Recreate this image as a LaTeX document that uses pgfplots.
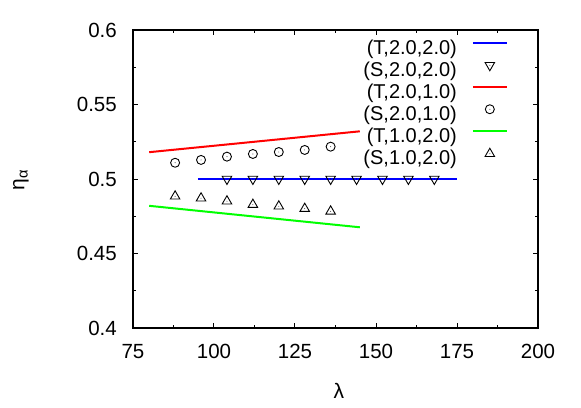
\documentclass[border=0pt]{standalone}
\usepackage{fontspec}
\setmainfont{Liberation Sans}
\usepackage{pgfplots}
\pgfplotsset{compat=1.18}
\pgfdeclareplotmark{ocd}{%
 \pgfpathcircle{\pgfpointorigin}{\pgfplotmarksize}\pgfusepathqstroke
 \pgfpathcircle{\pgfpointorigin}{0.45pt}\pgfusepathqfill}
\pgfdeclareplotmark{utd}{%
 \pgfpathmoveto{\pgfpointpolar{90}{\pgfplotmarksize}}%
 \pgfpathlineto{\pgfpointpolar{-30}{\pgfplotmarksize}}%
 \pgfpathlineto{\pgfpointpolar{210}{\pgfplotmarksize}}%
 \pgfpathclose\pgfusepathqstroke
 \pgfpathcircle{\pgfpointorigin}{0.45pt}\pgfusepathqfill}
\pgfdeclareplotmark{dtd}{%
 \pgfpathmoveto{\pgfpointpolar{-90}{\pgfplotmarksize}}%
 \pgfpathlineto{\pgfpointpolar{30}{\pgfplotmarksize}}%
 \pgfpathlineto{\pgfpointpolar{150}{\pgfplotmarksize}}%
 \pgfpathclose\pgfusepathqstroke
 \pgfpathcircle{\pgfpointorigin}{0.45pt}\pgfusepathqfill}
\definecolor{gpgreen}{RGB}{0,255,0}
\pgfplotsset{
 lineleg/.style={legend image code/.code={\draw[##1] (0pt,6pt) -- (34pt,6pt);}},
 markleg/.style={legend image code/.code={\draw[##1] plot coordinates {(17pt,6pt)};}},
}
\begin{document}
\begin{tikzpicture}
\begin{axis}[
 width=405pt, height=298pt, scale only axis,
 xmin=75, xmax=200, ymin=0.4, ymax=0.6,
 xtick={75,100,125,150,175,200},
 ytick={0.4,0.45,0.5,0.55,0.6},
 yticklabels={0.4,0.45,0.5,0.55,0.6},
 minor x tick num=1, minor y tick num=1,
 tick align=inside, major tick length=5pt, minor tick length=3pt,
 axis line style={line width=1.2pt},
 every tick/.style={black, line width=1pt},
 /pgf/number format/assume math mode=true,
 every tick label/.append style={font=\fontsize{20.5}{24}\selectfont},
 xticklabel style={inner sep=0pt, anchor=north, yshift=-16pt},
 yticklabel style={inner sep=0pt, anchor=east, xshift=-16pt},
 xlabel={λ}, ylabel={η\textsubscript{α}},
 label style={font=\fontsize{21}{24}\selectfont},
 xlabel style={at={(axis description cs:0.5086,-0.2113)}, anchor=center},
 ylabel style={at={(axis description cs:-0.2766,0.4966)}, anchor=center},
 legend plot pos=right,
 legend cell align=right,
 legend style={draw=none, fill=none, at={(axis description cs:0.926,0.973)}, anchor=north east,
   font=\fontsize{20}{24}\selectfont, inner sep=0pt, column sep=14pt, row sep=0pt,
   nodes={inner sep=1pt, text height=15pt, text depth=5pt}},
]
\addplot[blue, line width=2pt, lineleg]
 coordinates {(95,0.5) (175,0.5)};
\addlegendentry{(T,2.0,2.0)}
\addplot[only marks, mark=dtd, mark size=5.5pt, black, line width=0.9pt, markleg]
 coordinates {(104,0.5) (112,0.5) (120,0.5) (128,0.5) (136,0.5) (144,0.5) (152,0.5) (160,0.5) (168,0.5)};
\addlegendentry{(S,2.0,2.0)}
\addplot[red, line width=2pt, lineleg]
 coordinates {(80,0.518) (145,0.532)};
\addlegendentry{(T,2.0,1.0)}
\addplot[only marks, mark=ocd, mark size=4.5pt, black, line width=0.9pt, markleg]
 coordinates {(88,0.5109) (96,0.5128) (104,0.5150) (112,0.5168) (120,0.5181) (128,0.5195) (136,0.5217)};
\addlegendentry{(S,2.0,1.0)}
\addplot[gpgreen, line width=2pt, lineleg]
 coordinates {(80,0.482) (145,0.4676)};
\addlegendentry{(T,1.0,2.0)}
\addplot[only marks, mark=utd, mark size=5.5pt, black, line width=0.9pt, markleg]
 coordinates {(88,0.4884) (96,0.4871) (104,0.4851) (112,0.4828) (120,0.4817) (128,0.4801) (136,0.4783)};
\addlegendentry{(S,1.0,2.0)}
\end{axis}
\path (current axis.south west) ++(-133pt,-79pt) rectangle ++(581pt,407pt);
\end{tikzpicture}
\end{document}
